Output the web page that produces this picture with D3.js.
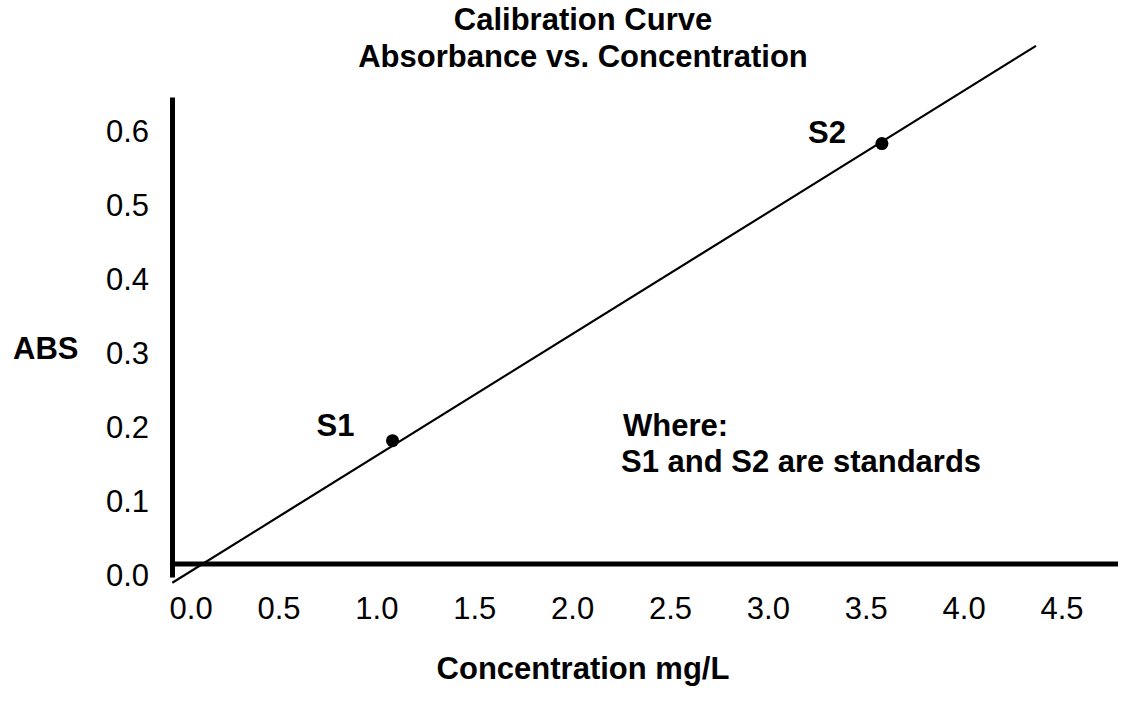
<!DOCTYPE html>
<html>
<head>
<meta charset="utf-8">
<script src="https://cdn.jsdelivr.net/npm/d3@7"></script>
<style>
  html, body { margin: 0; padding: 0; background: #fff; }
  svg { display: block; }
  text { font-family: "Liberation Sans", Arial, Helvetica, sans-serif; fill: #000; }
</style>
</head>
<body>
<svg id="chart" width="1127" height="702"></svg>
<script>
// ---- data ----
const xTicks = [0, 0.5, 1.0, 1.5, 2.0, 2.5, 3.0, 3.5, 4.0, 4.5];
const yTicks = [0, 0.1, 0.2, 0.3, 0.4, 0.5, 0.6];
const standardNames = ["S1", "S2"];
const standardConc = [1.08, 3.58];
const standardAbs = [0.1815, 0.583];
const fitConc = [-0.045, 4.367];
const fitAbs = [-0.0104, 0.715];
const titleLines = ["Calibration Curve", "Absorbance vs. Concentration"];
const noteLines = ["Where:", "S1 and S2 are standards"];

// ---- layout ----
const svg = d3.select("#chart");
const x = d3.scaleLinear().domain([0.5, 4.5]).range([279, 1062]);
const y = d3.scaleLinear().domain([0, 0.6]).range([575, 131]);
const boldSize = "31px", tickSize = "31px";

// title
svg.selectAll("text.title").data(titleLines).join("text")
  .attr("class", "title")
  .attr("x", 583).attr("y", (d, i) => 30 + i * 36.5)
  .attr("text-anchor", "middle")
  .style("font-size", boldSize).style("font-weight", "bold")
  .text(d => d);

// axes frame
const axisX = 172.5, axisY = 564;
svg.append("line").attr("x1", axisX).attr("x2", axisX)
  .attr("y1", 97.5).attr("y2", 577.5)
  .attr("stroke", "#000").attr("stroke-width", 5);
svg.append("line").attr("x1", 170).attr("x2", 1118)
  .attr("y1", axisY).attr("y2", axisY)
  .attr("stroke", "#000").attr("stroke-width", 5);

// y tick labels
svg.selectAll("text.ytick").data(yTicks).join("text")
  .attr("class", "ytick")
  .attr("x", 149).attr("y", d => y(d)).attr("dy", "0.36em")
  .attr("text-anchor", "end")
  .style("font-size", tickSize)
  .text(d => d3.format(".1f")(d));

// x tick labels (the 0.0 label is nudged right to clear the axis)
svg.selectAll("text.xtick").data(xTicks).join("text")
  .attr("class", "xtick")
  .attr("x", d => x(d) + (d === 0 ? 10 : 0)).attr("y", 619)
  .attr("text-anchor", "middle")
  .style("font-size", tickSize)
  .text(d => d3.format(".1f")(d));

// axis titles
svg.append("text").attr("x", 13).attr("y", 359)
  .style("font-size", boldSize).style("font-weight", "bold").text("ABS");
svg.append("text").attr("x", 583).attr("y", 679)
  .attr("text-anchor", "middle")
  .style("font-size", boldSize).style("font-weight", "bold").text("Concentration mg/L");

// fit line
const line = d3.line().x(d => x(d[0])).y(d => y(d[1]));
svg.append("path")
  .datum(d3.zip(fitConc, fitAbs))
  .attr("d", line)
  .attr("fill", "none").attr("stroke", "#000").attr("stroke-width", 2.2);

// standards
const pts = d3.zip(standardNames, standardConc, standardAbs);
svg.selectAll("circle.std").data(pts).join("circle")
  .attr("class", "std")
  .attr("cx", d => x(d[1])).attr("cy", d => y(d[2]))
  .attr("r", 6.5).attr("fill", "#000");
const labelOffsets = [[-38, -5], [-36, -1]];
svg.selectAll("text.stdlabel").data(pts).join("text")
  .attr("class", "stdlabel")
  .attr("x", (d, i) => x(d[1]) + labelOffsets[i][0])
  .attr("y", (d, i) => y(d[2]) + labelOffsets[i][1])
  .attr("text-anchor", "end")
  .style("font-size", boldSize).style("font-weight", "bold")
  .text(d => d[0]);

// note
svg.selectAll("text.note").data(noteLines).join("text")
  .attr("class", "note")
  .attr("x", (d, i) => i === 0 ? 623 : 621)
  .attr("y", (d, i) => 436 + i * 35.7)
  .style("font-size", boldSize).style("font-weight", "bold")
  .text(d => d);
</script>
</body>
</html>
